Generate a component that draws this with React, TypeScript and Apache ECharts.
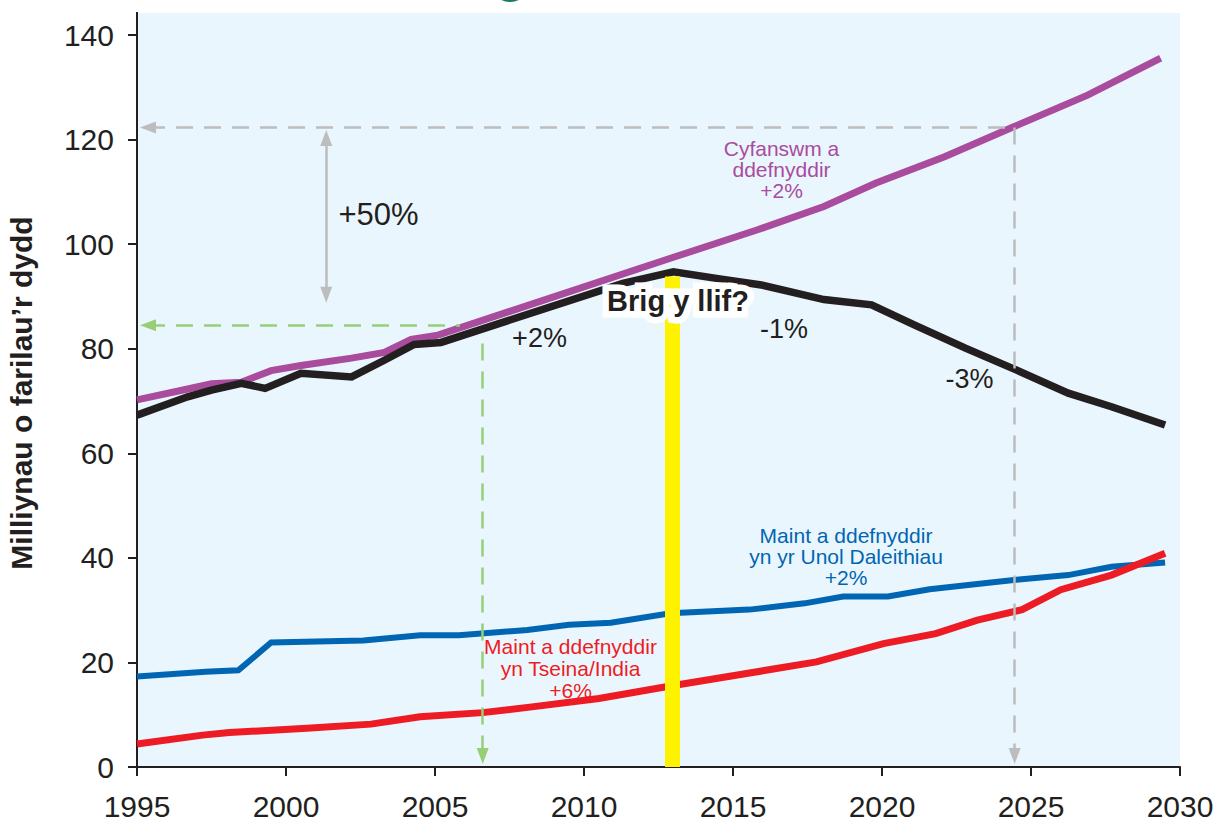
import React, { useEffect, useRef } from "react";
import * as echarts from "echarts";

// ---- Data ----
const totalYears = [1995, 1996.7, 1997.5, 1998.5, 1999.5, 2000.5, 2002.2, 2003.3, 2004.2, 2005.1, 2012.9, 2015.8, 2018.05, 2019.8, 2022.1, 2024.4, 2026.9, 2029.35];
const totalValues = [70.2, 72.3, 73.3, 73.6, 75.8, 76.8, 78.2, 79.3, 81.8, 82.6, 97.3, 102.7, 107.2, 111.7, 116.7, 122.4, 128.5, 135.6];

const supplyYears = [1995, 1996.7, 1997.5, 1998.5, 1999.3, 2000.5, 2002.2, 2003.3, 2004.3, 2005.2, 2011.3, 2013.0, 2014.5, 2015.95, 2018.05, 2019.65, 2021.1, 2022.8, 2024.4, 2026.25, 2027.7, 2029.5];
const supplyValues = [67.3, 70.8, 72.1, 73.4, 72.4, 75.3, 74.6, 77.8, 80.8, 81.2, 92.5, 94.7, 93.4, 92.2, 89.4, 88.4, 84.5, 80.1, 76.2, 71.5, 68.9, 65.4];

const usYears = [1995, 1997.3, 1998.4, 1999.5, 2002.6, 2004.5, 2005.8, 2008.1, 2009.5, 2010.9, 2012.9, 2015.55, 2017.4, 2018.7, 2020.2, 2021.6, 2023.35, 2024.5, 2026.25, 2027.7, 2029.5];
const usValues = [17.3, 18.2, 18.5, 23.8, 24.2, 25.2, 25.2, 26.2, 27.2, 27.6, 29.4, 30.1, 31.3, 32.6, 32.6, 34.0, 35.1, 35.8, 36.7, 38.3, 39.1];

const chinaIndiaYears = [1995, 1997.2, 1998.1, 2000.7, 2002.85, 2004.5, 2006.6, 2008.25, 2010.5, 2012.9, 2015.15, 2017.8, 2020.05, 2021.8, 2023.2, 2024.7, 2026.0, 2027.7, 2029.5];
const chinaIndiaValues = [4.4, 6.1, 6.6, 7.4, 8.2, 9.6, 10.4, 11.5, 13.1, 15.5, 17.6, 20.1, 23.6, 25.5, 28.1, 30.1, 33.9, 36.7, 40.9];

const xTickYears = [1995, 2030, 5]; // min, max, interval
const yTicks = [0, 140, 20]; // min, max, interval

const peakYear = 2012.95;
const peakTop = 93.8;
const totalAt2025Year = 2024.45;
const totalAt2025Value = 122.3;
const totalAt2006Value = 84.5;
const greenVerticalYear = 2006.6;
const greenVerticalTop = 81.0;
const arrowLeftYear = 1995.37;
const greenHorizontalEnd = 2005.84;
const arrowBottomValue = 2.1;
const doubleArrowYear = 2001.35;
const doubleArrowTop = 120.3;
const doubleArrowBottom = 90.3;

const COLORS = {
  total: "#A94C9D",
  supply: "#231F20",
  us: "#0066B3",
  china: "#ED1C24",
  yellow: "#FFF200",
  bg: "#EAF6FD",
  gray: "#BDBDBD",
  green: "#98CE78",
  text: "#231F20",
};

const FONT = "'Liberation Sans', Arial, Helvetica, sans-serif";

const pairs = (xs: number[], ys: number[]) => xs.map((x, i) => [x, ys[i]]);

export default function App() {
  const ref = useRef<HTMLDivElement>(null);

  useEffect(() => {
    if (!ref.current) return;
    const chart = echarts.init(ref.current, null, { renderer: "svg" });

    const dashed = (color: string) => ({ color, width: 2.5, type: [17, 11] as any, opacity: 1 });
    const solid = (color: string, width: number) => ({ color, width, type: "solid" as any, opacity: 1 });

    const brig = {
      text: "Brig y llif?",
      font: `bold 29px ${FONT}`,
      align: "center",
      verticalAlign: "middle",
    };

    const option: any = {
      animation: false,
      backgroundColor: "#ffffff",
      grid: {
        left: 137,
        right: 37,
        top: 35,
        bottom: 56,
        show: true,
        backgroundColor: COLORS.bg,
        borderWidth: 0,
        containLabel: false,
        outerBoundsMode: "none",
      },
      xAxis: {
        type: "value",
        min: xTickYears[0],
        max: xTickYears[1],
        interval: xTickYears[2],
        splitLine: { show: false },
        axisLine: { show: true, lineStyle: { color: COLORS.text, width: 2 } },
        axisTick: { show: true, length: 9, inside: false, lineStyle: { color: COLORS.text, width: 2 } },
        axisLabel: {
          color: COLORS.text, fontSize: 30, fontFamily: FONT, margin: 24,
          formatter: (v: number) => String(v),
        },
      },
      yAxis: {
        type: "value",
        min: yTicks[0],
        max: yTicks[1],
        interval: yTicks[2],
        name: "Milliynau o farilau’r dydd",
        nameLocation: "middle",
        nameGap: 101,
        nameRotate: 90,
        nameTextStyle: {
          color: COLORS.text, fontSize: 30, fontWeight: "bold", fontFamily: FONT,
          padding: [0, 0, 0, 16],
        },
        splitLine: { show: false },
        axisLine: { show: true, lineStyle: { color: COLORS.text, width: 2 } },
        axisTick: { show: true, length: 9, inside: false, lineStyle: { color: COLORS.text, width: 2 } },
        axisLabel: { color: COLORS.text, fontSize: 30, fontFamily: FONT, margin: 23 },
      },
      series: [
        {
          name: "annotations",
          type: "line",
          data: [],
          z: 1,
          silent: true,
          markLine: {
            silent: true,
            animation: false,
            label: { show: false },
            emphasis: { disabled: true },
            symbol: ["none", "none"],
            data: [
              [
                { coord: [peakYear, 0], symbol: "none", lineStyle: solid(COLORS.yellow, 15) },
                { coord: [peakYear, peakTop], symbol: "none", lineStyle: solid(COLORS.yellow, 15) },
              ],
              [
                { coord: [arrowLeftYear, totalAt2025Value], symbol: "triangle", symbolSize: [12, 16], lineStyle: dashed(COLORS.gray) },
                { coord: [totalAt2025Year, totalAt2025Value], symbol: "none", lineStyle: dashed(COLORS.gray) },
              ],
              [
                { coord: [totalAt2025Year, totalAt2025Value], symbol: "none", lineStyle: dashed(COLORS.gray) },
                { coord: [totalAt2025Year, arrowBottomValue], symbol: "triangle", symbolSize: [12, 16], lineStyle: dashed(COLORS.gray) },
              ],
              [
                { coord: [arrowLeftYear, totalAt2006Value], symbol: "triangle", symbolSize: [12, 16], lineStyle: dashed(COLORS.green) },
                { coord: [greenHorizontalEnd, totalAt2006Value], symbol: "none", lineStyle: dashed(COLORS.green) },
              ],
              [
                { coord: [greenVerticalYear, greenVerticalTop], symbol: "none", lineStyle: dashed(COLORS.green) },
                { coord: [greenVerticalYear, arrowBottomValue], symbol: "triangle", symbolSize: [12, 16], lineStyle: dashed(COLORS.green) },
              ],
              [
                { coord: [doubleArrowYear, doubleArrowTop], symbol: "triangle", symbolSize: [12, 16], lineStyle: solid(COLORS.gray, 2.5) },
                { coord: [doubleArrowYear, doubleArrowBottom], symbol: "triangle", symbolSize: [12, 16], lineStyle: solid(COLORS.gray, 2.5) },
              ],
            ],
          },
        },
        {
          name: "Cyfanswm a ddefnyddir",
          type: "line",
          data: pairs(totalYears, totalValues),
          symbol: "none",
          z: 3,
          lineStyle: { color: COLORS.total, width: 7, join: "miter" },
        },
        {
          name: "Cyflenwad",
          type: "line",
          data: pairs(supplyYears, supplyValues),
          symbol: "none",
          z: 4,
          lineStyle: { color: COLORS.supply, width: 7.5, join: "miter" },
        },
        {
          name: "Maint a ddefnyddir yn yr Unol Daleithiau",
          type: "line",
          data: pairs(usYears, usValues),
          symbol: "none",
          z: 3,
          lineStyle: { color: COLORS.us, width: 6, join: "miter" },
        },
        {
          name: "Maint a ddefnyddir yn Tseina/India",
          type: "line",
          data: pairs(chinaIndiaYears, chinaIndiaValues),
          symbol: "none",
          z: 4,
          lineStyle: { color: COLORS.china, width: 7, join: "miter" },
        },
      ],
      graphic: [
        { type: "rect", z: 0, silent: true, shape: { x: 137, y: 13, width: 1043, height: 23 }, style: { fill: COLORS.bg } },
        { type: "line", z: 5, silent: true, shape: { x1: 137, y1: 12, x2: 137, y2: 36 }, style: { stroke: COLORS.text, lineWidth: 2 } },
        { type: "ellipse", z: 5, silent: true, shape: { cx: 510, cy: -9, rx: 15, ry: 11 }, style: { fill: "#1B7A5A" } },
        {
          type: "text", z: 100, silent: true, x: 378.5, y: 214,
          style: { text: "+50%", fill: COLORS.text, font: `31px ${FONT}`, align: "center", verticalAlign: "middle" },
        },
        {
          type: "text", z: 100, silent: true, x: 539.5, y: 338,
          style: { text: "+2%", fill: COLORS.text, font: `27px ${FONT}`, align: "center", verticalAlign: "middle" },
        },
        {
          type: "text", z: 100, silent: true, x: 784, y: 329,
          style: { text: "-1%", fill: COLORS.text, font: `27px ${FONT}`, align: "center", verticalAlign: "middle" },
        },
        {
          type: "text", z: 100, silent: true, x: 969.5, y: 379,
          style: { text: "-3%", fill: COLORS.text, font: `27px ${FONT}`, align: "center", verticalAlign: "middle" },
        },
        {
          type: "text", z: 99, silent: true, x: 678, y: 301,
          style: { ...brig, fill: "#ffffff", stroke: "#ffffff", lineWidth: 13, lineJoin: "round" },
        },
        {
          type: "text", z: 100, silent: true, x: 678, y: 301,
          style: { ...brig, fill: COLORS.text },
        },
        {
          type: "text", z: 100, silent: true, x: 781.5, y: 169.5,
          style: {
            text: "Cyfanswm a\nddefnyddir\n+2%", fill: COLORS.total, font: `21px ${FONT}`,
            lineHeight: 21, align: "center", verticalAlign: "middle",
          },
        },
        {
          type: "text", z: 100, silent: true, x: 846, y: 556,
          style: {
            text: "Maint a ddefnyddir\nyn yr Unol Daleithiau\n+2%", fill: COLORS.us, font: `21px ${FONT}`,
            lineHeight: 21, align: "center", verticalAlign: "middle",
          },
        },
        {
          type: "text", z: 100, silent: true, x: 570.5, y: 668,
          style: {
            text: "Maint a ddefnyddir\nyn Tseina/India\n+6%", fill: COLORS.china, font: `21px ${FONT}`,
            lineHeight: 22, align: "center", verticalAlign: "middle",
          },
        },
      ],
    };

    chart.setOption(option);
    return () => chart.dispose();
  }, []);

  return (
    <div
      ref={ref}
      style={{ position: "fixed", left: 0, top: 0, width: 1217, height: 823, background: "#fff" }}
    />
  );
}
